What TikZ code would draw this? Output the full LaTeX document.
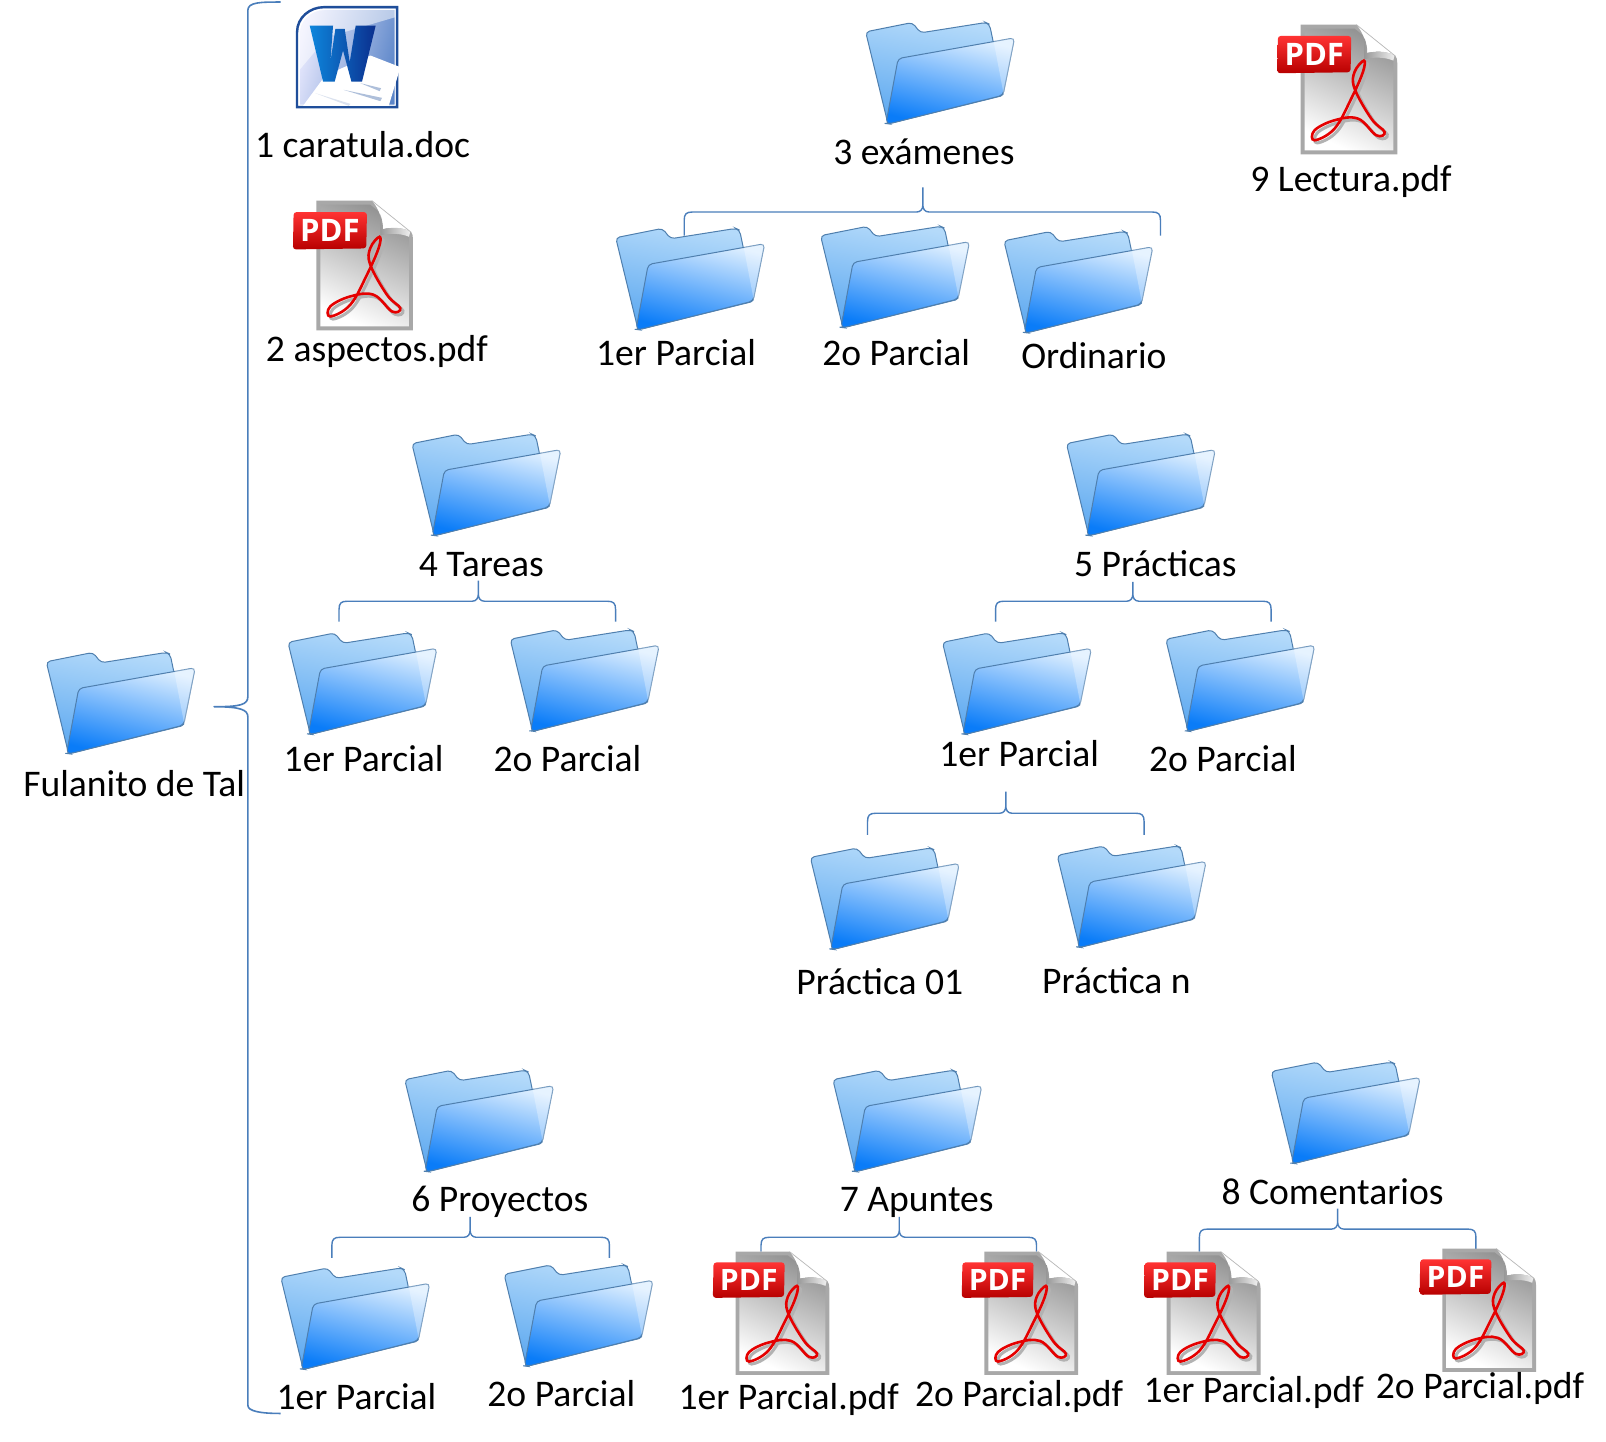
\documentclass[tikz,border=0pt]{standalone}
\usepackage{fontspec}
\setmainfont{Carlito}
\newfontfamily\pdffont{Open Sans}
\definecolor{brc}{HTML}{4A7EBB}
\definecolor{fedge}{HTML}{4F7FAE}
\definecolor{wdark}{HTML}{1F4E9A}
\definecolor{fbt}{HTML}{B4DAFA}
\definecolor{fbb}{HTML}{5CA8F0}
\definecolor{fft}{HTML}{DCEEFF}
\definecolor{ffm}{HTML}{7ABAFB}
\definecolor{ffb}{HTML}{0A7CF8}
\definecolor{wlo}{HTML}{0E86DC}
\definecolor{whi}{HTML}{0B2F8E}
\definecolor{wbgr}{HTML}{5C86C9}
\tikzset{
  lbl/.style={font=\fontsize{18.8}{20}\selectfont,text=black,inner sep=0pt,text height=13pt,text depth=4pt},
  brace/.style={draw=brc,line width=0.7pt,line join=round},
}
\newcommand{\folder}[3]{%
\begin{scope}[shift={(#2-1.5,#3)},xscale=1.015,x=0.1667pt,y=-0.1667pt]
\coordinate (#1) at (220,150);
\shadedraw[draw=fedge,line width=.5pt,rounded corners=2pt,top color=fbt,bottom color=fbb,shading angle=-10]
 (2,28) -- (140,0) -- (164,31) -- (357,0) -- (368,5) -- (412,218) -- (68,304) -- cycle;
\fill[white,opacity=.45] (378,55) -- (442,46) -- (410,218) -- cycle;
\shadedraw[draw=fedge,line width=.5pt,rounded corners=2pt,top color=fft,middle color=ffm,bottom color=ffb,shading angle=-14]
 (62,303) -- (98,108) -- (442,46) -- (408,218) -- (70,304) -- cycle;
\fill[white,opacity=.3,rounded corners=1pt] (380,55) -- (443,46) -- (410,216) -- cycle;
\end{scope}}
\newcommand{\pdficon}[5]{%
\begin{scope}[shift={(#2+1,#3)},xscale=#4,yscale=#5,x=0.1667pt,y=-0.1667pt]
\coordinate (#1) at (180,195);
\fill[black!34] (70,0) -- (237,0) -- (355,95) .. controls (358,98) and (360,105) .. (360,115) -- (360,389) -- (70,389) -- cycle;
\shade[top color=black!42,middle color=black!10,bottom color=white,shading angle=-25]
 (82,12) -- (232,12) -- (348,105) -- (348,377) -- (82,377) -- cycle;
\fill[white] (240,3) .. controls (290,35) and (325,62) .. (352,92) .. controls (325,78) and (290,80) .. (270,85) .. controls (268,55) and (258,25) .. (240,3) -- cycle;
\shade[left color=black!40,right color=black!6] (262,40) .. controls (268,60) and (270,70) .. (270,85) .. controls (295,80) and (325,78) .. (352,92) -- (348,108) .. controls (320,96) and (285,98) .. (262,104) -- cycle;
\draw[black!28,line width=.35pt] (237,0) -- (355,95);
\draw[black!30,line width=1.5pt] plot[smooth cycle,tension=.65] coordinates {(268,116) (240,150) (240,200) (290,290) (330,330) (305,340) (250,290) (180,295) (120,325) (120,355) (180,320) (230,230) (265,150)};
\draw[red!90!black,line width=1.3pt] plot[smooth cycle,tension=.65] coordinates {(260,108) (232,142) (232,192) (282,282) (322,322) (297,332) (242,282) (172,287) (112,317) (112,347) (172,312) (222,222) (257,142)};
\shade[top color=red!80!white,middle color=red!92!black,bottom color=red!72!black,rounded corners=1.5pt]
 (2,34) -- (222,34) -- (220,143) -- (0,146) -- cycle;
\node[transform shape,font=\pdffont\bfseries\fontsize{15.5}{16}\selectfont,text=white,inner sep=0pt] at (111,90) {PDF};
\end{scope}}
\begin{document}
\begin{tikzpicture}[x=0.5121pt,y=-0.5121pt]
\useasboundingbox (0,0) rectangle (1568,1407);
\fill[white] (0,0) rectangle (1568,1407);
% root brace
\coordinate (bt) at (274,2); \coordinate (bb) at (274,1380); \coordinate (bm) at (209,690);
\draw[brace,line width=.8pt] (bt) .. controls (255,2) and (242,2) .. (242,10) -- (242,680) .. controls (242,688) and (235,690) .. (bm) .. controls (235,690) and (242,693) .. (242,700) -- (242,1372) .. controls (242,1378) and (255,1380) .. (bb);
% small braces
\foreach \a/\b/\y/\m/\t/\e/\f in {668/1133/207/901/183/230/230,331/601/587/467/567/607/607,972/1241/587/1106/568/607/607,847/1117/794/982/773/815/815,324/595/1208/459/1188/1228/1228,743/1012/1208/878/1188/1222/1222,1171/1441/1200/1306/1180/1222/1222}{
 \draw[brace] (\a,\e) -- (\a,\y+8) .. controls (\a,\y+2) and (\a+2,\y) .. (\a+8,\y) -- (\m-6,\y) .. controls (\m-2,\y) and (\m,\y-3) .. (\m,\y-7) -- (\m,\t) (\m,\y-7) .. controls (\m,\y-3) and (\m+2,\y) .. (\m+6,\y) -- (\b-8,\y) .. controls (\b-2,\y) and (\b,\y+2) .. (\b,\y+8) -- (\b,\f);
}
% word icon
\begin{scope}[shift={(290,7)},x=0.1667pt,y=-0.1667pt]
\coordinate (word) at (150,150);
\shade[left color=black!3!blue!8!white,right color=wbgr,shading angle=75] (0,300) -- (0,75) .. controls (0,30) and (40,0) .. (80,0) -- (300,0) -- (300,300) -- cycle;
\fill[white,opacity=.5] (6,295) -- (6,78) .. controls (6,40) and (40,6) .. (82,6) -- (295,6) -- (295,30) -- (90,90) -- (6,190) -- cycle;
\draw[white,line width=.8pt] (6,295) -- (6,78) .. controls (6,40) and (40,6) .. (82,6) -- (295,6) -- (295,295) -- cycle;
\draw[wdark,line width=1.2pt] (0,300) -- (0,75) .. controls (0,30) and (40,0) .. (80,0) -- (300,0) -- (300,300) -- cycle;
\fill[white] (18,296) -- (85,205) -- (220,145) -- (310,180) -- (275,296) -- cycle;
\shade[left color=wlo,right color=whi] (38,55) -- (108,55) -- (100,165) -- (115,65) -- (143,65) -- (158,165) -- (176,55) -- (236,55) -- (195,223) -- (163,223) -- (138,130) -- (113,223) -- (78,223) -- cycle;
\fill[wdark!60!white,opacity=.6] (140,248) -- (255,272) -- (250,282) -- cycle;
\fill[wdark!60!white,opacity=.6] (190,228) -- (252,243) -- (248,252) -- cycle;
\fill[wdark!40!white,opacity=.4] (55,258) -- (160,290) -- (155,296) -- cycle;
\end{scope}
% folders
\folder{froot}{46}{637}
\folder{fexam}{846}{22}
\folder{fea}{602}{223}
\folder{feb}{802}{221}
\folder{fec}{981}{226}
\folder{ftar}{403}{424}
\folder{fta}{282}{618}
\folder{ftb}{499}{615}
\folder{fpra}{1042}{424}
\folder{fpa}{921}{618}
\folder{fpb}{1139}{615}
\folder{fpc}{792}{828}
\folder{fpn}{1033}{826}
\folder{fpro}{396}{1045}
\folder{fra}{275}{1238}
\folder{frb}{493}{1235}
\folder{fapu}{814}{1045}
\folder{fcom}{1242}{1037}
% pdf icons
\pdficon{pasp}{285}{196}{1}{1}
\pdficon{plec}{1246}{24}{1}{1}
\pdficon{paa}{695}{1222}{.97}{.95}
\pdficon{pab}{938}{1222}{.97}{.95}
\pdficon{pca}{1116}{1222}{.97}{.95}
\pdficon{pcb}{1385}{1219}{.97}{.95}
% labels
\begin{scope}[yshift=-1.6pt]
\node[lbl] (t0) at (131,766) {Fulanito de Tal};
\node[lbl] (t1) at (354,142) {1 caratula.doc};
\node[lbl] (t2) at (368,341) {2 aspectos.pdf};
\node[lbl] (t3) at (902,149) {3 exámenes};
\node[lbl] (t3a) at (660,345) {1er Parcial};
\node[lbl] (t3b) at (875,345) {2o Parcial};
\node[lbl] (t3c) at (1068,348) {Ordinario};
\node[lbl] (t9) at (1319,175) {9 Lectura.pdf};
\node[lbl] (t4) at (470,551) {4 Tareas};
\node[lbl] (t4a) at (355,741) {1er Parcial};
\node[lbl] (t4b) at (554,741) {2o Parcial};
\node[lbl] (t5) at (1128,551) {5 Prácticas};
\node[lbl] (t5a) at (995,736) {1er Parcial};
\node[lbl] (t5b) at (1194,741) {2o Parcial};
\node[lbl] (t5c) at (859,959) {Práctica 01};
\node[lbl] (t5d) at (1090,958) {Práctica n};
\node[lbl] (t6) at (488,1171) {6 Proyectos};
\node[lbl] (t7) at (895,1171) {7 Apuntes};
\node[lbl] (t8) at (1301,1164) {8 Comentarios};
\node[lbl] (t6a) at (348,1364) {1er Parcial};
\node[lbl] (t6b) at (548,1361) {2o Parcial};
\node[lbl] (t7a) at (770,1364) {1er Parcial.pdf};
\node[lbl] (t7b) at (995,1361) {2o Parcial.pdf};
\node[lbl] (t8a) at (1224,1357) {1er Parcial.pdf};
\node[lbl] (t8b) at (1445,1353) {2o Parcial.pdf};
\end{scope}
\end{tikzpicture}
\end{document}
